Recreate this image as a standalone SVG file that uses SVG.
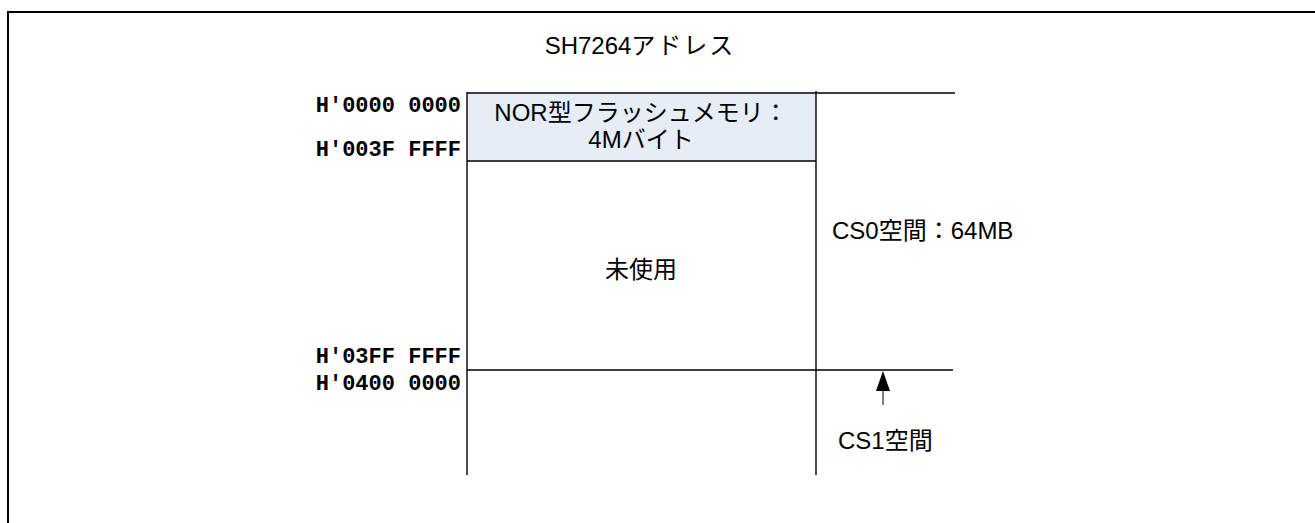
<svg xmlns="http://www.w3.org/2000/svg" width="1315" height="523" viewBox="0 0 1315 523">
<style>
.t{font-family:"Liberation Sans","Noto Sans CJK JP",sans-serif;font-size:24px;fill:#000}
.m{font-family:"Liberation Mono","Courier New",monospace;font-weight:bold;font-size:22px;fill:#000;text-anchor:end}
.ln{stroke:#000;stroke-width:1.4;fill:none}
</style>
<rect width="1315" height="523" fill="#fff"/>
<path d="M8,523 V12 H1315" fill="none" stroke="#000" stroke-width="2"/>
<text class="t" x="640" y="54" text-anchor="middle">SH7264<tspan letter-spacing="2">アドレス</tspan></text>
<g id="nor">
<rect x="467" y="93" width="349" height="68" fill="#E6EDF7"/>
<text class="t" x="641" y="121" text-anchor="middle">NOR型フラッシュメモリ：</text>
<text class="t" x="641" y="148" text-anchor="middle">4Mバイト</text>
</g>
<g id="unused">
<text class="t" x="641" y="278" text-anchor="middle">未使用</text>
</g>
<g id="connectors">
<line class="ln" x1="467" y1="93" x2="955" y2="93"/>
<line class="ln" x1="467" y1="161" x2="816" y2="161"/>
<line class="ln" x1="467" y1="370" x2="953" y2="370"/>
<line class="ln" x1="467" y1="92" x2="467" y2="475"/>
<line class="ln" x1="816" y1="91" x2="816" y2="475"/>
<line x1="883" y1="388" x2="883" y2="405" stroke="#000" stroke-width="1"/>
<polygon points="883,371 876,391 890,391" fill="#000"/>
</g>
<g id="labels">
<text class="m" x="461" y="112">H'0000 0000</text>
<text class="m" x="461" y="156">H'003F FFFF</text>
<text class="m" x="461" y="363">H'03FF FFFF</text>
<text class="m" x="461" y="390">H'0400 0000</text>
<text class="t" x="832" y="239">CS0空間：64MB</text>
<text class="t" x="838" y="449">CS1空間</text>
</g>
</svg>
